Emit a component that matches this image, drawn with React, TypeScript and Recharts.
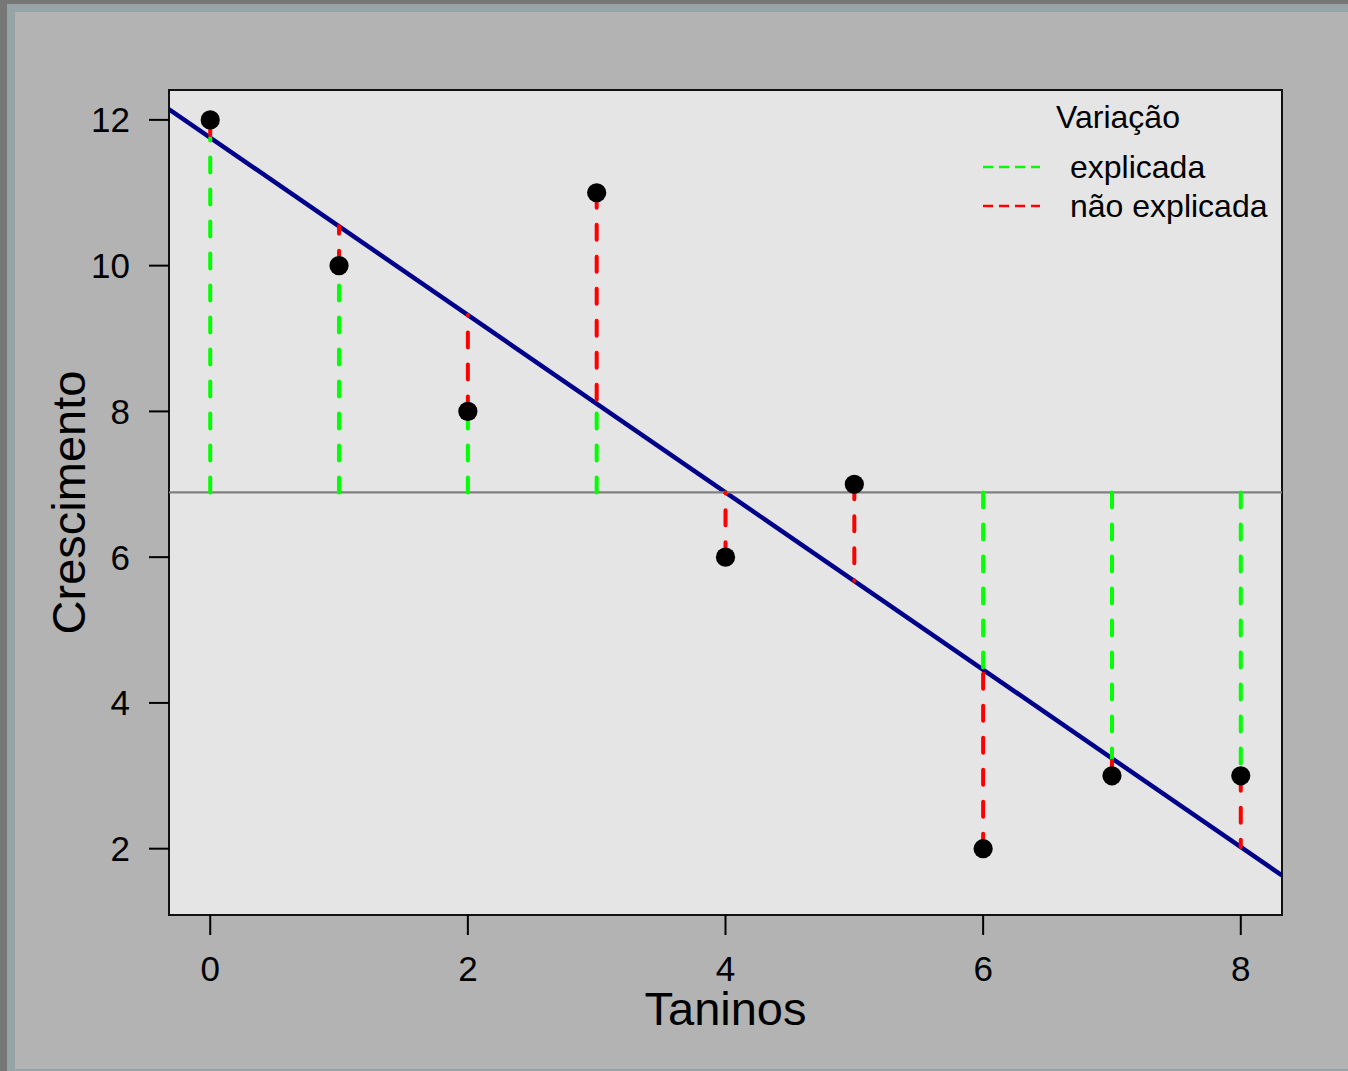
import React from 'react';
import { ComposedChart, Line, Scatter, XAxis, YAxis, CartesianGrid, ReferenceArea } from 'recharts';

// tannin concentration vs. caterpillar growth
const taninos = [0, 1, 2, 3, 4, 5, 6, 7, 8];
const crescimento = [12, 10, 8, 11, 6, 7, 2, 3, 3];

const xTicks = [0, 2, 4, 6, 8];
const yTicks = [2, 4, 6, 8, 10, 12];
const xDomain: [number, number] = [-0.32, 8.32];
const yDomain: [number, number] = [1.09, 12.41];

const FONT = '"Liberation Sans", Arial, Helvetica, sans-serif';
const DASH = '15 17';

// least squares fit
const n = taninos.length;
const mx = taninos.reduce((s, v) => s + v, 0) / n;
const my = crescimento.reduce((s, v) => s + v, 0) / n;
const sxy = taninos.reduce((s, v, i) => s + (v - mx) * (crescimento[i] - my), 0);
const sxx = taninos.reduce((s, v) => s + (v - mx) * (v - mx), 0);
const slope = sxy / sxx;
const intercept = my - slope * mx;
const fitted = (x: number) => intercept + slope * x;

const points = taninos.map((x, i) => ({ x, y: crescimento[i] }));
const fitLine = xDomain.map((x) => ({ x, y: fitted(x) }));
const meanLine = xDomain.map((x) => ({ x, y: my }));

// explained part: from the mean to whichever of fitted/observed lies nearer to it
const explicada = taninos.map((x, i) => {
  const f = fitted(x);
  const o = crescimento[i];
  const near = Math.abs(f - my) < Math.abs(o - my) ? f : o;
  return [{ x, y: my }, { x, y: near }];
});
// unexplained part: observed -> fitted
const naoExplicada = taninos.map((x, i) => [{ x, y: crescimento[i] }, { x, y: fitted(x) }]);

const Dot = (props: any) => <circle cx={props.cx} cy={props.cy} r={9.6} fill="#000" />;

const XTitle = (props: any) => {
  const { viewBox } = props;
  return (
    <text x={viewBox.x + viewBox.width / 2} y={viewBox.y + 110} textAnchor="middle" fontSize={47} fill="#000">
      Taninos
    </text>
  );
};

const YTitle = (props: any) => {
  const { viewBox } = props;
  const cx = 85;
  const cy = viewBox.y + viewBox.height / 2;
  return (
    <text x={cx} y={cy} transform={`rotate(-90, ${cx}, ${cy})`} textAnchor="middle" fontSize={47} fill="#000">
      Crescimento
    </text>
  );
};

const LegendBox = () => (
  <svg width={340} height={140} style={{ position: 'absolute', left: 960, top: 90, fontFamily: FONT }}>
    <text x={158} y={38} textAnchor="middle" fontSize={32} fill="#000">Variação</text>
    <line x1={23} x2={80} y1={77} y2={77} stroke="#00ff00" strokeWidth={2.5} strokeDasharray="10 6" />
    <text x={110} y={88} fontSize={32} fill="#000">explicada</text>
    <line x1={23} x2={80} y1={116} y2={116} stroke="#ff0000" strokeWidth={2.5} strokeDasharray="10 6" />
    <text x={110} y={127} fontSize={32} fill="#000">não explicada</text>
  </svg>
);

export default function App() {
  return (
    <div style={{ position: 'fixed', left: 0, top: 0, width: 1348, height: 1071, background: '#777777', fontFamily: FONT }}>
      <div style={{ position: 'absolute', left: 7, top: 4, right: 0, bottom: 0, background: '#95a5a5' }} />
      <div style={{ position: 'absolute', left: 15, top: 12, right: 0, bottom: 2, background: '#b3b3b3' }} />
      <div style={{ position: 'absolute', left: 0, top: 0 }}>
        <ComposedChart width={1348} height={1071} margin={{ top: 90, right: 66, bottom: 36, left: 29 }}>
          <CartesianGrid fill="#e5e5e5" horizontal={false} vertical={false} />
          <XAxis
            type="number"
            dataKey="x"
            domain={xDomain}
            allowDataOverflow
            ticks={xTicks}
            axisLine={false}
            tickLine={{ stroke: '#000', strokeWidth: 2 }}
            tickSize={20}
            tickMargin={21}
            height={120}
            tick={{ fontSize: 35, fill: '#000' }}
            label={<XTitle />}
          />
          <YAxis
            type="number"
            dataKey="y"
            domain={yDomain}
            allowDataOverflow
            ticks={yTicks}
            axisLine={false}
            tickLine={{ stroke: '#000', strokeWidth: 2 }}
            tickSize={20}
            tickMargin={19}
            width={140}
            tick={{ fontSize: 35, fill: '#000' }}
            label={<YTitle />}
          />
          <Scatter data={points} dataKey="y" shape={<Dot />} isAnimationActive={false} />
          <Line data={fitLine} dataKey="y" type="linear" stroke="#00008b" strokeWidth={4.5} dot={false} activeDot={false} isAnimationActive={false} />
          <Line data={meanLine} dataKey="y" type="linear" stroke="#808080" strokeWidth={2.2} dot={false} activeDot={false} isAnimationActive={false} />
          {explicada.map((seg, i) => (
            <Line
              key={`exp-${i}`}
              data={seg}
              dataKey="y"
              type="linear"
              stroke="#00ff00"
              strokeWidth={4}
              strokeDasharray={DASH}
              strokeLinecap="round"
              dot={false}
              activeDot={false}
              isAnimationActive={false}
            />
          ))}
          {naoExplicada.map((seg, i) => (
            <Line
              key={`nexp-${i}`}
              data={seg}
              dataKey="y"
              type="linear"
              stroke="#ff0000"
              strokeWidth={4}
              strokeDasharray={DASH}
              strokeLinecap="round"
              dot={false}
              activeDot={false}
              isAnimationActive={false}
            />
          ))}
          <ReferenceArea x1={xDomain[0]} x2={xDomain[1]} y1={yDomain[0]} y2={yDomain[1]} fill="none" stroke="#111" strokeWidth={2} />
        </ComposedChart>
      </div>
      <LegendBox />
    </div>
  );
}
